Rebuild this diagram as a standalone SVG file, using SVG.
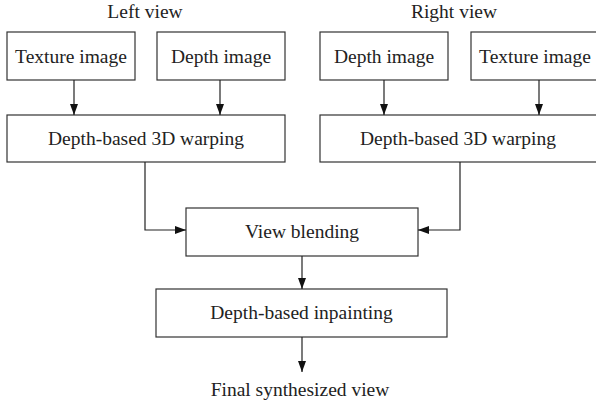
<svg xmlns="http://www.w3.org/2000/svg" width="596" height="405" viewBox="0 0 596 405">
<style>
.box{fill:#fff;stroke:#333;stroke-width:1.2}
.t{font-family:"Liberation Serif","Times New Roman",serif;font-size:19.5px;fill:#222;text-anchor:middle}
.c{fill:none;stroke:#222;stroke-width:1.2}
</style>
<defs>
<marker id="ah" viewBox="0 0 11 8" refX="11" refY="4" markerWidth="11" markerHeight="8" markerUnits="userSpaceOnUse" orient="auto">
<path d="M0,0 L11,4 L0,8 Z" fill="#111"/>
</marker>
</defs>
<rect width="596" height="405" fill="#fff"/>
<text class="t" x="145" y="18">Left view</text>
<text class="t" x="454" y="18">Right view</text>
<g id="left-texture"><rect class="box" x="7" y="32" width="128" height="48"/><text class="t" x="71" y="63">Texture image</text></g>
<g id="left-depth"><rect class="box" x="157" y="32" width="128" height="48"/><text class="t" x="221" y="63">Depth image</text></g>
<g id="left-warp"><rect class="box" x="7" y="115" width="278" height="47"/><text class="t" x="146" y="145">Depth-based 3D warping</text></g>
<g id="right-depth"><rect class="box" x="320" y="32" width="128" height="48"/><text class="t" x="384" y="63">Depth image</text></g>
<g id="right-texture"><rect class="box" x="471" y="32" width="130" height="48"/><text class="t" x="535" y="63">Texture image</text></g>
<g id="right-warp"><rect class="box" x="320" y="115" width="282" height="47"/><text class="t" x="458" y="145">Depth-based 3D warping</text></g>
<g id="blending"><rect class="box" x="186" y="208" width="232" height="48"/><text class="t" x="302" y="238">View blending</text></g>
<g id="inpainting"><rect class="box" x="156" y="289" width="291" height="48"/><text class="t" x="301.5" y="319">Depth-based inpainting</text></g>
<g id="output"><text class="t" x="300" y="396">Final synthesized view</text></g>
<g id="connectors">
<line class="c" x1="74" y1="80" x2="74" y2="115" marker-end="url(#ah)"/>
<line class="c" x1="220" y1="80" x2="220" y2="115" marker-end="url(#ah)"/>
<line class="c" x1="384" y1="80" x2="384" y2="115" marker-end="url(#ah)"/>
<line class="c" x1="539" y1="80" x2="539" y2="115" marker-end="url(#ah)"/>
<polyline class="c" points="145,162 145,230 186,230" marker-end="url(#ah)"/>
<polyline class="c" points="460,162 460,230 418,230" marker-end="url(#ah)"/>
<line class="c" x1="302" y1="256" x2="302" y2="289" marker-end="url(#ah)"/>
<line class="c" x1="302" y1="337" x2="302" y2="372" marker-end="url(#ah)"/>
</g>
</svg>
